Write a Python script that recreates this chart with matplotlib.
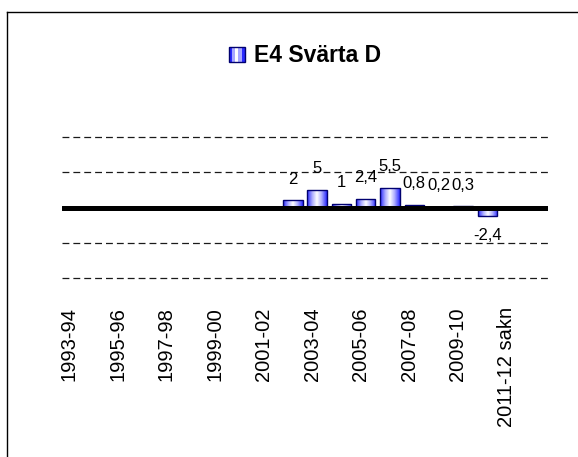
import numpy as np
import matplotlib
matplotlib.use("Agg")
import matplotlib.pyplot as plt
from matplotlib.colors import LinearSegmentedColormap
from matplotlib.patches import Rectangle
from matplotlib.legend_handler import HandlerBase
from matplotlib.lines import Line2D
import matplotlib.transforms as mtransforms

# ---- data ----
categories = ["1993-94", "1994-95", "1995-96", "1996-97", "1997-98", "1998-99",
              "1999-00", "2000-01", "2001-02", "2002-03", "2003-04", "2004-05",
              "2005-06", "2006-07", "2007-08", "2008-09", "2009-10", "2010-11",
              "2011-12 sakn", "2012-13"]
values = [np.nan, np.nan, np.nan, np.nan, np.nan, np.nan, np.nan, np.nan, np.nan,
          2, 5, 1, 2.4, 5.5, 0.8, 0.2, 0.3, -2.4, np.nan, np.nan]
value_labels = ["", "", "", "", "", "", "", "", "",
                "2", "5", "1", "2,4", "5,5", "0,8", "0,2", "0,3", "-2,4", "", ""]
series_name = "E4 Svärta D"
y_ticks = [-20, -10, 0, 10, 20]

plt.rcParams['font.family'] = ['Liberation Sans', 'DejaVu Sans']

W, H = 578, 457
fig = plt.figure(figsize=(W / 100, H / 100), dpi=100)
ax = fig.add_axes([62 / W, 1 - 278 / H, (548 - 62) / W, (278 - 137) / H])

x = np.arange(len(categories))
blue = '#2a2aff'
edge = '#000070'
cmap = LinearSegmentedColormap.from_list('barg', [blue, '#a8a8ff', '#ffffff', '#a8a8ff', blue])
grad = np.linspace(0, 1, 64).reshape(1, -1)

bars = ax.bar(x, values, width=0.8, color=blue, edgecolor='none', zorder=2)
for b in bars:
    h = b.get_height()
    if np.isnan(h):
        continue
    x0, y0, w = b.get_x(), b.get_y(), b.get_width()
    im = ax.imshow(grad, extent=[x0, x0 + w, y0, y0 + h], cmap=cmap, aspect='auto',
                   interpolation='bilinear', zorder=2.2)
    im.set_clip_path(b)
ax.bar(x, values, width=0.8, fill=False, edgecolor=edge, linewidth=1.0, zorder=2.4)

# data labels
for b, lab in zip(bars, value_labels):
    h = b.get_height()
    if np.isnan(h) or lab == "":
        continue
    cx = b.get_x() + b.get_width() / 2
    if h >= 0:
        ax.annotate(lab, (cx, h), xytext=(0, 10), textcoords='offset points',
                    ha='center', va='bottom', fontsize=12, zorder=5)
    else:
        ax.annotate(lab, (cx, h), xytext=(0, -9), textcoords='offset points',
                    ha='center', va='top', fontsize=12, zorder=5)

ax.set_xlim(-0.5, len(categories) - 0.5)
ax.set_ylim(y_ticks[0], y_ticks[-1])
ax.set_yticks(y_ticks)
ax.set_yticklabels([])
for yv in y_ticks:
    if yv != 0:
        ax.axhline(yv, color='#1a1a1a', lw=0.9, dashes=(5.5, 3.2), zorder=1, clip_on=False)
ax.axhline(0, color='black', lw=3.6, solid_capstyle='round', zorder=3)

ax.set_xticks(x[::2])
ax.set_xticklabels(categories[::2], rotation=90, fontsize=14.5, va='top', ha='center')
ax.tick_params(axis='x', length=0, pad=21)
ax.tick_params(axis='y', length=0)
offset = mtransforms.ScaledTranslation(-5 / 100, 0, fig.dpi_scale_trans)
for lab in ax.get_xticklabels():
    lab.set_transform(lab.get_transform() + offset)
for s in ax.spines.values():
    s.set_visible(False)


# legend with striped marker
class StripeHandler(HandlerBase):
    def create_artists(self, legend, orig_handle, xdescent, ydescent, width, height, fontsize, trans):
        cols = [blue, '#a8a8ff', '#ffffff', '#a8a8ff', blue]
        n = len(cols)
        arts = []
        for i, c in enumerate(cols):
            r = Rectangle((-xdescent + i * width / n, -ydescent), width / n, height,
                          facecolor=c, edgecolor='none', transform=trans)
            arts.append(r)
        arts.append(Rectangle((-xdescent, -ydescent), width, height, facecolor='none',
                              edgecolor=edge, lw=1.0, transform=trans))
        return arts


handle = Rectangle((0, 0), 1, 1)
fig.legend([handle], [series_name], loc='center', bbox_to_anchor=(305 / W, 1 - 56 / H),
           frameon=False, handler_map={Rectangle: StripeHandler()},
           prop={'weight': 'bold', 'size': 16.5}, handlelength=0.68, handleheight=0.68,
           handletextpad=0.4, borderpad=0)

# outer frame (partly visible)
fig.add_artist(Line2D([7 / W, 7 / W], [0, 1 - 12 / H], color='black', lw=1.0,
                      transform=fig.transFigure))
fig.add_artist(Line2D([7 / W, 1], [1 - 12 / H, 1 - 12 / H], color='black', lw=1.0,
                      transform=fig.transFigure))

fig.savefig('out.png', dpi=100, facecolor='white')
